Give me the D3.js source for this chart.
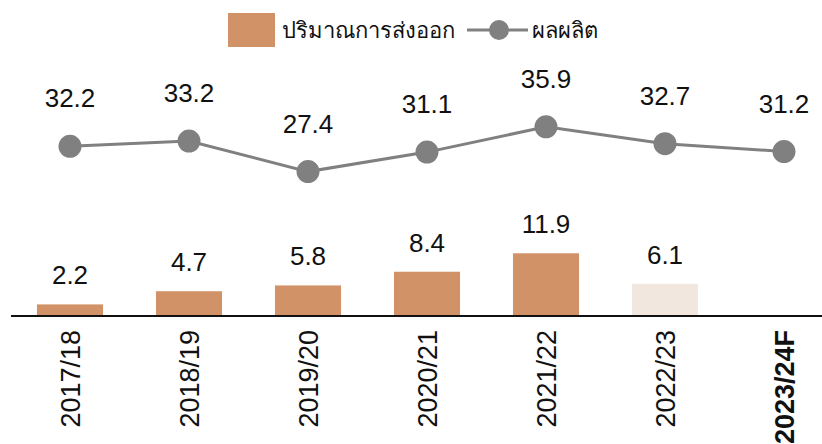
<!DOCTYPE html>
<html>
<head>
<meta charset="utf-8">
<script src="https://cdn.jsdelivr.net/npm/d3@7"></script>
<style>
  body { margin: 0; background: #fff; }
  text { font-family: "Liberation Sans", Arial, sans-serif; fill: #111; }
</style>
</head>
<body>
<svg id="chart" width="822" height="444"></svg>
<script>
const years = ["2017/18", "2018/19", "2019/20", "2020/21", "2021/22", "2022/23", "2023/24F"];
const exportVol = [2.2, 4.7, 5.8, 8.4, 11.9, 6.1, null];
const production = [32.2, 33.2, 27.4, 31.1, 35.9, 32.7, 31.2];
const barLabel = "ปริมาณการส่งออก";
const lineLabel = "ผลผลิต";

const width = 822, height = 444;
const svg = d3.select("#chart");

const x = d3.scaleBand().domain(years).range([10.5, 843.5]).paddingInner(0.445).paddingOuter(0.2225);
const y = d3.scaleLinear().domain([0, 40]).range([316, 105.2]);

const barColor = "#d09266";
const barLight = "#f2e7de";
const lineColor = "#808080";

// bars
const bars = years.map((yr, i) => ({ yr, v: exportVol[i], i })).filter(d => d.v != null);
svg.selectAll(".bar").data(bars).join("rect")
  .attr("class", "bar")
  .attr("x", d => x(d.yr))
  .attr("y", d => y(d.v))
  .attr("width", x.bandwidth())
  .attr("height", d => y(0) - y(d.v))
  .attr("fill", d => d.i === 5 ? barLight : barColor);

svg.selectAll(".bar-label").data(bars).join("text")
  .attr("class", "bar-label")
  .attr("x", d => x(d.yr) + x.bandwidth() / 2)
  .attr("y", d => y(d.v) - 20)
  .attr("text-anchor", "middle")
  .style("font-size", "26px")
  .text(d => d.v.toFixed(1));

// axis line
svg.append("line")
  .attr("x1", 11).attr("x2", width)
  .attr("y1", y(0)).attr("y2", y(0))
  .attr("stroke", "#111").attr("stroke-width", 2);

// x labels rotated
svg.selectAll(".x-label").data(years).join("text")
  .attr("class", "x-label")
  .attr("transform", d => `translate(${x(d) + x.bandwidth() / 2},330) rotate(-90)`)
  .attr("text-anchor", "end")
  .attr("dy", "0.36em")
  .style("font-size", "27px")
  .style("font-weight", (d, i) => i === years.length - 1 ? "bold" : "normal")
  .text(d => d);

// line
const pts = years.map((yr, i) => ({ yr, v: production[i] }));
const line = d3.line().x(d => x(d.yr) + x.bandwidth() / 2).y(d => y(d.v));
svg.append("path").datum(pts)
  .attr("d", line)
  .attr("fill", "none")
  .attr("stroke", lineColor)
  .attr("stroke-width", 3);

svg.selectAll(".pt").data(pts).join("circle")
  .attr("class", "pt")
  .attr("cx", d => x(d.yr) + x.bandwidth() / 2)
  .attr("cy", d => y(d.v))
  .attr("r", 11.5)
  .attr("fill", lineColor);

svg.selectAll(".pt-label").data(pts).join("text")
  .attr("class", "pt-label")
  .attr("x", d => x(d.yr) + x.bandwidth() / 2)
  .attr("y", d => y(d.v) - 39)
  .attr("text-anchor", "middle")
  .style("font-size", "26px")
  .text(d => d.v.toFixed(1));

// legend
const lg = svg.append("g");
lg.append("rect").attr("x", 228).attr("y", 13).attr("width", 47).attr("height", 34).attr("fill", barColor);
lg.append("text").attr("x", 282).attr("y", 38).style("font-size", "22px").text(barLabel);
lg.append("line").attr("x1", 467).attr("x2", 528).attr("y1", 30).attr("y2", 30)
  .attr("stroke", lineColor).attr("stroke-width", 3);
lg.append("circle").attr("cx", 499).attr("cy", 30).attr("r", 10).attr("fill", lineColor);
lg.append("text").attr("x", 532).attr("y", 38).style("font-size", "22px").text(lineLabel);
</script>
</body>
</html>
